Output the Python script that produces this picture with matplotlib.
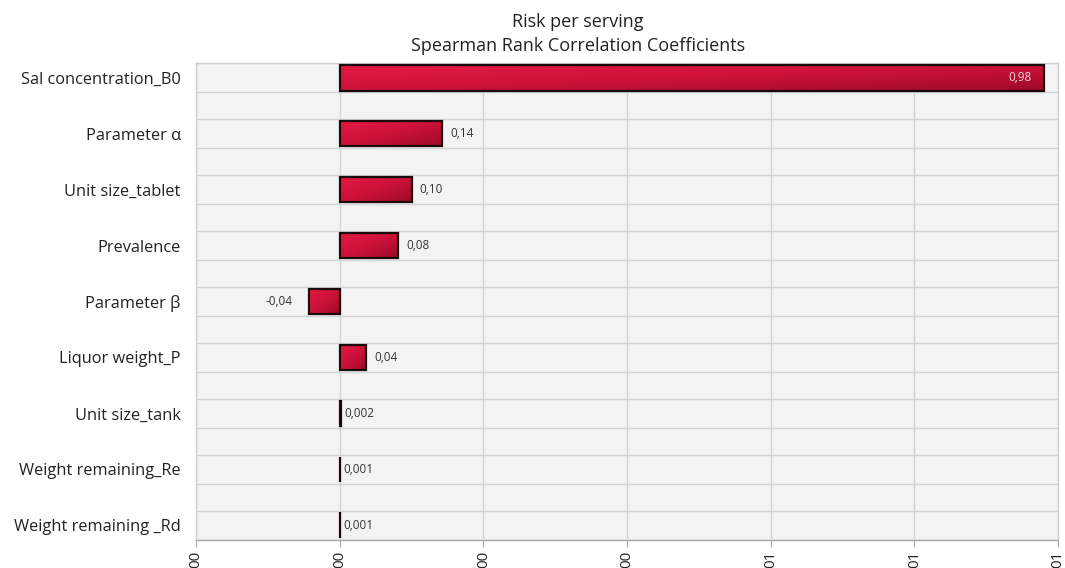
import matplotlib
matplotlib.use("Agg")
import matplotlib.pyplot as plt
import numpy as np
from matplotlib.colors import LinearSegmentedColormap

categories = ["Sal concentration_B0", "Parameter \u03b1", "Unit size_tablet", "Prevalence",
              "Parameter \u03b2", "Liquor weight_P", "Unit size_tank",
              "Weight remaining_Re", "Weight remaining _Rd"]
values = [0.98, 0.143, 0.10, 0.081, -0.043, 0.037, 0.002, 0.001, 0.001]
value_labels = ["0,98", "0,14", "0,10", "0,08", "-0,04", "0,04", "0,002", "0,001", "0,001"]
xtick_pos = [-0.2, 0.0, 0.2, 0.4, 0.6, 0.8, 1.0]
xtick_labels = ["00", "00", "00", "00", "01", "01", "01"]
title_lines = ["Risk per serving", "Spearman Rank Correlation Coefficients"]

plt.rcParams['font.family'] = ['Open Sans', 'DejaVu Sans']

fig = plt.figure(figsize=(10.65, 5.68), dpi=100)
ax = fig.add_axes([196/1065, 1-540/568, (1058-196)/1065, (540-63)/568])
ax.set_facecolor("#f3f3f3")

n = len(categories)
y = np.arange(n)
half = 0.262
bar_h = 0.46

ax.set_xlim(-0.2, 1.0)
ax.set_ylim(n - 1 + half, -half)

# horizontal band lines
for yi in y:
    ax.axhline(yi - half, color="#d2d2d2", lw=1.0, zorder=1)
    ax.axhline(yi + half, color="#d2d2d2", lw=1.0, zorder=1)
for xt in xtick_pos:
    ax.axvline(xt, color="#d2d2d2", lw=1.0, zorder=1)

bars = ax.barh(y, values, height=bar_h, color="none", edgecolor="#1a0a0e", lw=1.6, zorder=4)

cmap = LinearSegmentedColormap.from_list("g", ["#e41a42", "#cc1238", "#9e0a28"])
grad = np.add.outer(np.linspace(0, 1, 40), np.linspace(0, 1, 200)) / 2
for b in bars:
    x0, y0 = b.get_x(), b.get_y()
    w, h = b.get_width(), b.get_height()
    xa, xb = min(x0, x0 + w), max(x0, x0 + w)
    im = ax.imshow(grad, cmap=cmap, extent=[xa, xb, y0 + h, y0], aspect="auto",
                   zorder=3, interpolation="bilinear")
    fill = plt.Rectangle((x0, y0), w, h, transform=ax.transData, facecolor="none", edgecolor="none")
    ax.add_patch(fill)
    im.set_clip_path(fill)
ax.set_xlim(-0.2, 1.0)
ax.set_ylim(n - 1 + half, -half)

for yi, v, lab in zip(y, values, value_labels):
    if v > 0.5:
        ax.annotate(lab, (v, yi), xytext=(-9, 0), textcoords="offset points",
                    ha="right", va="center", fontsize=8.5, color="#f4d6dc", zorder=5)
    elif v < 0:
        ax.annotate(lab, (v, yi), xytext=(-12, 0), textcoords="offset points",
                    ha="right", va="center", fontsize=8.5, color="#333333", zorder=5)
    else:
        off = 6 if v > 0.01 else 2
        ax.annotate(lab, (v, yi), xytext=(off, 0), textcoords="offset points",
                    ha="left", va="center", fontsize=8.5, color="#333333", zorder=5)

ax.set_yticks(y)
ax.set_yticklabels(categories, fontsize=11.8, color="#222222")
ax.tick_params(axis="y", length=0, pad=11)
ax.set_xticks(xtick_pos)
ax.set_xticklabels(xtick_labels, rotation=90, fontsize=11, color="#222222")
ax.tick_params(axis="x", length=5, color="#aaaaaa", pad=3)

for s in ax.spines.values():
    s.set_color("#cfcfcf")
    s.set_linewidth(1.0)
ax.spines["bottom"].set_color("#aaaaaa")

fig.text(578/1065, 1-22/568, title_lines[0], ha="center", va="center", fontsize=13, color="#222222")
fig.text(578/1065, 1-46/568, title_lines[1], ha="center", va="center", fontsize=13, color="#222222")

fig.savefig("out.png", dpi=100)
